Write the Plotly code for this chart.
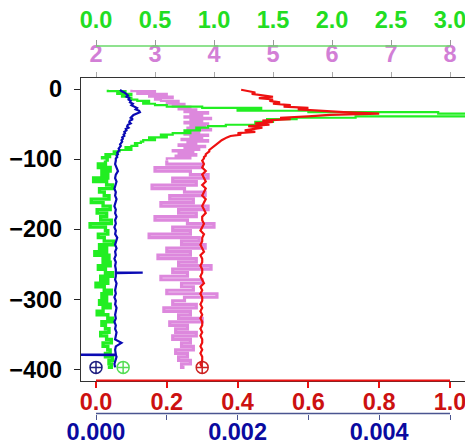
import plotly.graph_objects as go

# ---------------- data ----------------
# depth sampling grid (m)
depth_top = list(range(-1, -100, -2))        # 50 samples, -1 .. -99
depth_bot = list(range(-102, -398, -5))      # 60 samples, -102 .. -397
depth = depth_top + depth_bot

green_top = [0.10, 0.25, 0.18, 0.30, 0.22, 0.28, 0.30, 0.35, 0.45, 0.40,
             0.50, 0.60, 0.90, 1.40, 1.20, 1.80, 2.90, 3.40, 3.30, 2.20,
             1.70, 1.45, 1.50, 1.35, 1.40, 1.10, 0.95, 0.85, 0.88, 0.75,
             0.80, 0.65, 0.55, 0.60, 0.45, 0.50, 0.40, 0.38, 0.33, 0.35,
             0.30, 0.25, 0.30, 0.20, 0.15, 0.18, 0.08, 0.12, 0.05, 0.10]
green_bot = [0.08, 0.02, 0.12, 0.05, 0.10, -0.02, 0.09, 0.14, 0.03, 0.07,
             0.11, -0.04, 0.06, 0.12, 0.01, 0.09, 0.04, 0.13, -0.05, 0.08,
             0.10, 0.02, 0.07, 0.15, 0.03, 0.09, -0.01, 0.11, 0.06, 0.12,
             0.02, 0.08, 0.14, 0.04, 0.10, 0.00, 0.07, 0.13, 0.05, 0.09,
             0.03, 0.12, 0.06, 0.01, 0.10, 0.14, 0.05, 0.08, 0.11, 0.04,
             0.09, 0.13, 0.06, 0.10, 0.12, 0.08, 0.14, 0.11, 0.13, 0.10]

violet_top = [2.60, 3.00, 2.70, 3.20, 2.90, 3.30, 3.00, 3.10, 3.40, 3.20,
              3.50, 3.30, 3.60, 3.40, 3.70, 3.50, 3.90, 3.60, 3.80, 3.50,
              3.95, 3.60, 3.80, 3.50, 3.90, 3.60, 3.85, 3.55, 3.95, 3.60,
              3.75, 3.50, 3.90, 3.60, 3.80, 3.45, 3.90, 3.55, 3.70, 3.40,
              3.85, 3.50, 3.75, 3.30, 3.65, 3.40, 3.70, 3.35, 3.60, 3.20]
violet_bot = [3.20, 3.80, 3.00, 3.60, 3.90, 3.30, 3.70, 2.95, 3.50, 3.85,
              3.25, 3.65, 3.10, 3.90, 3.40, 3.70, 3.00, 3.55, 4.00, 3.30,
              3.60, 2.90, 3.75, 3.45, 3.85, 3.20, 3.60, 3.05, 3.70, 3.40,
              3.95, 3.30, 3.55, 3.10, 3.80, 3.45, 3.65, 3.20, 4.05, 3.50,
              3.30, 3.70, 3.15, 3.60, 3.40, 3.80, 3.25, 3.55, 3.35, 3.70,
              3.30, 3.60, 3.45, 3.65, 3.35, 3.55, 3.40, 3.60, 3.45, 3.50]

red_top = [0.41, 0.43, 0.45, 0.44, 0.47, 0.50, 0.46, 0.50, 0.49, 0.52,
           0.50, 0.55, 0.53, 0.60, 0.57, 0.63, 0.70, 0.80, 0.66, 0.60,
           0.52, 0.55, 0.47, 0.50, 0.45, 0.49, 0.43, 0.47, 0.44, 0.42,
           0.45, 0.40, 0.41, 0.38, 0.37, 0.36, 0.355, 0.35, 0.345, 0.34,
           0.335, 0.33, 0.325, 0.32, 0.32, 0.315, 0.31, 0.31, 0.305, 0.305]
red_bot = [0.300, 0.305, 0.300, 0.310, 0.300, 0.305, 0.310, 0.300, 0.310, 0.305,
           0.300, 0.310, 0.305, 0.300, 0.305, 0.310, 0.300, 0.300, 0.305, 0.300,
           0.295, 0.305, 0.300, 0.300, 0.295, 0.300, 0.305, 0.295, 0.300, 0.300,
           0.295, 0.300, 0.300, 0.295, 0.300, 0.305, 0.295, 0.300, 0.295, 0.300,
           0.300, 0.295, 0.300, 0.295, 0.300, 0.295, 0.300, 0.300, 0.295, 0.300,
           0.295, 0.300, 0.300, 0.295, 0.300, 0.295, 0.300, 0.300, 0.295, 0.300]

blue_top = [0.00034, 0.00036, 0.00040, 0.00042, 0.00045, 0.00043, 0.00047, 0.00046, 0.00049, 0.00048,
            0.00052, 0.00050, 0.00055, 0.00058, 0.00056, 0.00061, 0.00062, 0.00057, 0.00053, 0.00051,
            0.00049, 0.00052, 0.00048, 0.00047, 0.00049, 0.00045, 0.00044, 0.00046, 0.00042, 0.00043,
            0.00040, 0.00041, 0.00039, 0.00040, 0.00037, 0.00038, 0.00036, 0.00037, 0.00035, 0.00034,
            0.00035, 0.00033, 0.00032, 0.00033, 0.00031, 0.00030, 0.00031, 0.00029, 0.00030, 0.00028]
blue_bot = [0.00028, 0.00027, 0.00029, 0.00031, 0.00028, 0.00027, 0.00029, 0.00028, 0.00026, 0.00028,
            0.00027, 0.00029, 0.00028, 0.00026, 0.00028, 0.00027, 0.00029, 0.00027, 0.00028, 0.00026,
            0.00028, 0.00027, 0.00030, 0.00028, 0.00027, 0.00029, 0.00027, 0.00028, 0.00026, 0.00028,
            0.00027, 0.00028, 0.00028, 0.00028, 0.00027, 0.00029, 0.00028, 0.00027, 0.00028, 0.00026,
            0.00028, 0.00027, 0.00029, 0.00028, 0.00027, 0.00028, 0.00026, 0.00028, 0.00027, 0.00029,
            0.00028, 0.00027, 0.00036, 0.00028, 0.00027, 0.00028, 0.00029, 0.00027, 0.00026, 0.00027]
# narrow spikes in the blue profile
blue_spike_depth = [-261.5, -262.0, -262.5, -378.5, -379.0, -379.5]
blue_spike_vals = [0.00028, 0.00066, 0.00028, 0.00028, -0.00050, 0.00028]

# bottom reference markers
marker_depth = [-397]
blue_marker = [0.0]
green_marker = [0.23]
red_marker = [0.30]

# tick definitions
y_ticks = [0, -100, -200, -300, -400]
green_ticks = [0.0, 0.5, 1.0, 1.5, 2.0, 2.5, 3.0]
violet_ticks = [2, 3, 4, 5, 6, 7, 8]
red_ticks = [0.0, 0.2, 0.4, 0.6, 0.8, 1.0]
blue_ticks = [0.000, 0.001, 0.002, 0.003, 0.004, 0.005]
blue_ticktext = ["0.000", "", "0.002", "", "0.004", ""]

# ---------------- styling ----------------
FONT = "Liberation Sans, Arial, sans-serif"
FS = 23.5
violet_c, violet_lab = "#dd88dd", "#d27fd6"
green_c, green_lab, green_axc = "#22ee22", "#22dd22", "#6ad86a"
red_c, red_lab = "#ee1111", "#cc1111"
blue_c, blue_lab, blue_axc = "#0a0ab4", "#0a0aa0", "#4a5590"

blue_pairs = sorted(zip(depth + blue_spike_depth, blue_top + blue_bot + blue_spike_vals),
                    key=lambda p: -p[0])
blue_depth = [p[0] for p in blue_pairs]
blue = [p[1] for p in blue_pairs]

fig = go.Figure()
# layering: x (violet) < x2 (green) < x3 (red) < x4 (blue)
fig.add_trace(go.Scatter(x=violet_top + violet_bot[:1], y=depth_top + depth_bot[:1], mode="lines",
                         xaxis="x", yaxis="y", line=dict(color=violet_c, width=2.2, shape="vh")))
fig.add_trace(go.Scatter(x=violet_bot, y=depth_bot, mode="lines", xaxis="x", yaxis="y",
                         line=dict(color=violet_c, width=3.2, shape="vh")))
fig.add_trace(go.Scatter(x=green_top + green_bot[:1], y=depth_top + depth_bot[:1], mode="lines",
                         xaxis="x2", yaxis="y", line=dict(color=green_c, width=2.2, shape="vh")))
fig.add_trace(go.Scatter(x=green_bot, y=depth_bot, mode="lines", xaxis="x2", yaxis="y",
                         line=dict(color=green_c, width=3.4, shape="vh")))
fig.add_trace(go.Scatter(x=green_marker, y=marker_depth, mode="markers", xaxis="x2", yaxis="y",
                         marker=dict(symbol="circle-cross-open", size=12, color="#55dd55",
                                     line=dict(width=1.5))))
fig.add_trace(go.Scatter(x=red_top + red_bot, y=depth, mode="lines", xaxis="x3", yaxis="y",
                         line=dict(color=red_c, width=2.2)))
fig.add_trace(go.Scatter(x=red_marker, y=marker_depth, mode="markers", xaxis="x3", yaxis="y",
                         marker=dict(symbol="circle-cross-open", size=12, color="#cc2222",
                                     line=dict(width=1.5))))
fig.add_trace(go.Scatter(x=blue, y=blue_depth, mode="lines", xaxis="x4", yaxis="y",
                         line=dict(color=blue_c, width=2.2)))
fig.add_trace(go.Scatter(x=blue_marker, y=marker_depth, mode="markers", xaxis="x4", yaxis="y",
                         marker=dict(symbol="circle-cross-open", size=12, color="#202080",
                                     line=dict(width=1.5))))

# geometry: plot region (inside margins) spans y 40..420 px
T, B = 40, 25
H = 445
region = H - T - B
def py(pix):
    return (H - B - pix) / region

y_lo, y_hi = py(380.5), py(78)
green_pos = py(46)
blue_pos = py(413.5)

# tick 0 at px 96, last tick at px 450, plotting region 81..465
def rng(v0, v1):
    scale = (450 - 96) / (v1 - v0)
    return [v0 - 15 / scale, v1 + 15 / scale]

tf = lambda c: dict(family=FONT, size=FS, color=c, weight="bold")

fig.update_layout(
    width=465, height=H,
    margin=dict(l=81, r=0, t=T, b=B, autoexpand=False),
    paper_bgcolor="white", plot_bgcolor="white",
    showlegend=False,
    yaxis=dict(domain=[y_lo, y_hi], range=[-415.7, 15.7], tickvals=y_ticks,
               ticks="outside", ticklen=6, tickcolor="#222", tickwidth=1,
               showline=True, linecolor="#333", linewidth=1.2, automargin=False,
               showgrid=False, zeroline=False, tickfont=tf("black"),
               ticklabelstandoff=7),
    xaxis=dict(range=rng(2, 8), tickvals=violet_ticks, side="top", anchor="y",
               ticks="outside", ticklen=5, tickcolor="#aaaaaa", automargin=False,
               showline=True, linecolor="#333", linewidth=1.2,
               showgrid=False, zeroline=False, tickfont=tf(violet_lab),
               ticklabelstandoff=1, ticklabeloverflow="allow"),
    xaxis2=dict(range=rng(0, 3), tickvals=green_ticks, tickformat=".1f",
                overlaying="x", side="top", anchor="free", position=green_pos,
                ticks="outside", ticklen=6, tickcolor="#999999", automargin=False,
                showline=False, showgrid=False, zeroline=False, tickfont=tf(green_lab),
                ticklabelstandoff=3, ticklabeloverflow="allow"),
    xaxis3=dict(range=rng(0, 1), tickvals=red_ticks, tickformat=".1f",
                overlaying="x", side="bottom", anchor="y", automargin=False,
                ticks="outside", ticklen=6, tickcolor=red_c, tickwidth=1.5,
                showline=True, linecolor="#333", linewidth=1.2,
                showgrid=False, zeroline=False, tickfont=tf(red_lab),
                ticklabelstandoff=-6, ticklabeloverflow="allow"),
    xaxis4=dict(range=rng(0, 0.005), tickvals=blue_ticks, ticktext=blue_ticktext,
                overlaying="x", side="bottom", anchor="free", position=blue_pos,
                ticks="outside", ticklen=5, tickcolor=blue_axc, tickwidth=1.2, automargin=False,
                showline=False, showgrid=False, zeroline=False, tickfont=tf(blue_lab),
                ticklabelstandoff=-8, ticklabeloverflow="allow"),
    shapes=[
        dict(type="line", xref="x2", yref="paper", x0=green_ticks[0], x1=green_ticks[-1],
             y0=green_pos, y1=green_pos, line=dict(color=green_axc, width=1.5)),
        dict(type="line", xref="x3", yref="paper", x0=red_ticks[0], x1=red_ticks[-1],
             y0=y_lo, y1=y_lo, line=dict(color=red_c, width=2)),
        dict(type="line", xref="x4", yref="paper", x0=blue_ticks[0], x1=blue_ticks[-1],
             y0=blue_pos, y1=blue_pos, line=dict(color=blue_axc, width=1.5)),
    ],
)

fig.write_html("out.html", config={"displayModeBar": False},
               post_script="document.body.style.margin='0';document.body.style.overflow='hidden';")
